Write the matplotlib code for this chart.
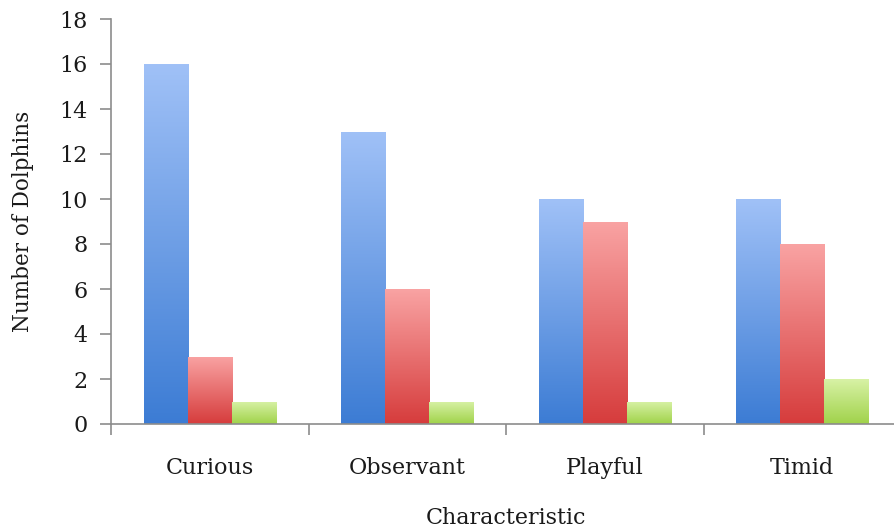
import numpy as np
import matplotlib
matplotlib.use("Agg")
import matplotlib.pyplot as plt
from matplotlib.colors import LinearSegmentedColormap

categories = ["Curious", "Observant", "Playful", "Timid"]
series_blue = [16, 13, 10, 10]
series_red = [3, 6, 9, 8]
series_green = [1, 1, 1, 2]
y_ticks = [0, 2, 4, 6, 8, 10, 12, 14, 16, 18]

# top (light) -> bottom (dark) colours for each series
gradients = [
    ("#a0c1f7", "#3c7cd4"),
    ("#f9a3a3", "#d63c3c"),
    ("#d8f2a6", "#a0d24a"),
]

plt.rcParams["font.family"] = ["DejaVu Serif"]

fig = plt.figure(figsize=(8.94, 5.29), dpi=100)
W, H = 894, 529
x0, x1 = 111, 901
y_top, y_bot = 19, 424
ax = fig.add_axes([x0 / W, 1 - y_bot / H, (x1 - x0) / W, (y_bot - y_top) / H])

x = np.arange(len(categories))
width = 0.223
all_series = [series_blue, series_red, series_green]
offsets = [-width, 0.0, width]

grad = np.linspace(1, 0, 256).reshape(-1, 1)
for vals, off, (c_top, c_bot) in zip(all_series, offsets, gradients):
    bars = ax.bar(x + off, vals, width, color="none", edgecolor="none", zorder=2)
    cmap = LinearSegmentedColormap.from_list("g", [c_bot, c_top])
    for b in bars:
        bx, bw, bh = b.get_x(), b.get_width(), b.get_height()
        im = ax.imshow(grad, extent=[bx, bx + bw, 0, bh], origin="upper",
                       cmap=cmap, aspect="auto", zorder=2,
                       interpolation="bilinear")
        im.set_clip_path(b)

ax.set_xlim(-0.5, len(categories) - 0.5)
ax.set_ylim(0, 18)
ax.set_yticks(y_ticks)
ax.set_xticks(x)
ax.set_xticklabels(categories)
ax.set_xticks(np.arange(len(categories) + 1) - 0.5, minor=True)

spine_col = "#8c8c8c"
for s in ["top", "right"]:
    ax.spines[s].set_visible(False)
for s in ["left", "bottom"]:
    ax.spines[s].set_color(spine_col)
    ax.spines[s].set_linewidth(1.2)

fs = 16
ax.tick_params(axis="y", direction="out", length=8, width=1.2, color=spine_col,
               labelsize=fs, pad=9, labelcolor="#1a1a1a")
ax.tick_params(axis="x", which="major", length=0, labelsize=fs, pad=24,
               labelcolor="#1a1a1a")
ax.tick_params(axis="x", which="minor", direction="out", length=8, width=1.2,
               color=spine_col)

ax.set_xlabel("Characteristic", fontsize=fs, labelpad=20, color="#1a1a1a")
ax.set_ylabel("Number of Dolphins", fontsize=15.5, color="#1a1a1a")
ax.yaxis.set_label_coords(-0.097, 0.5)

fig.savefig("out.png", dpi=100)
